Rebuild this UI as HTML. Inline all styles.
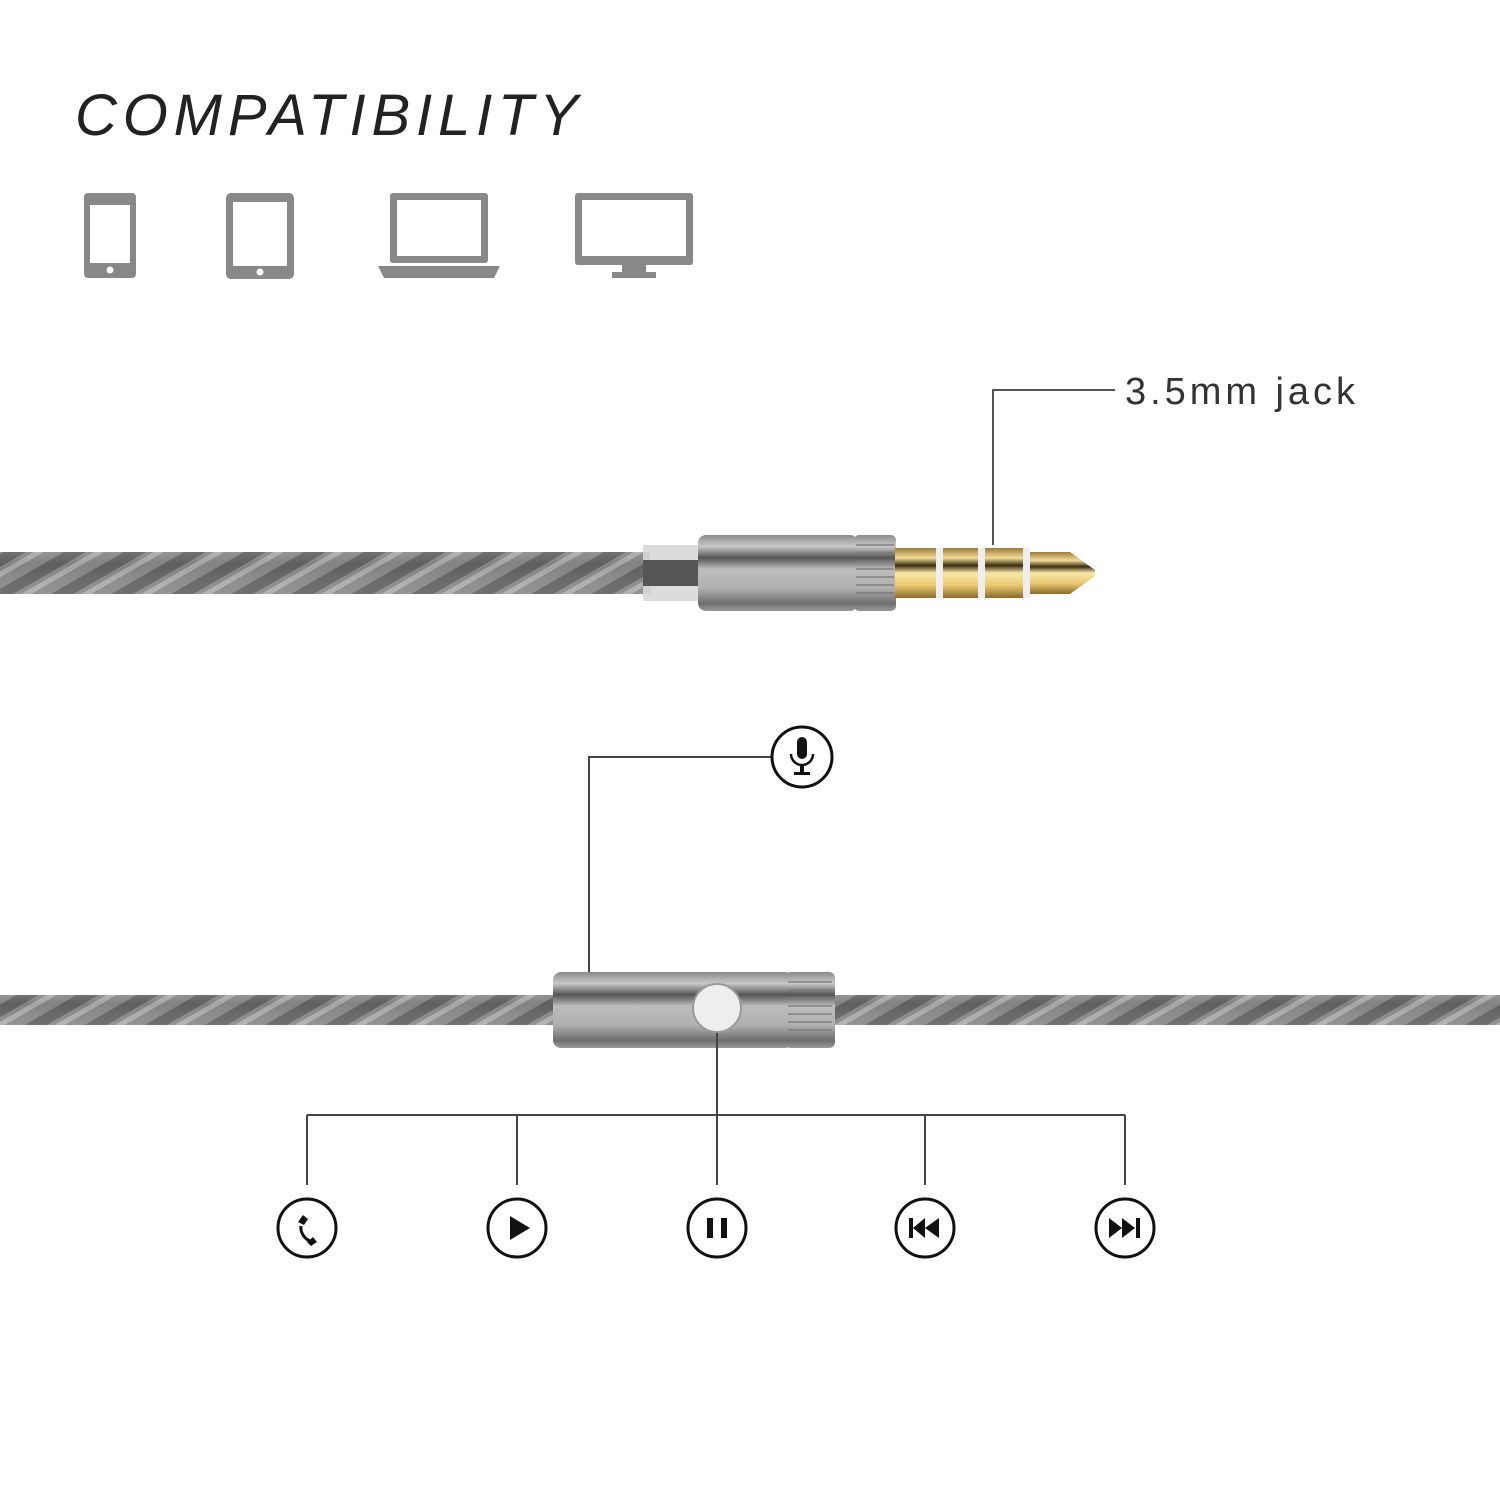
<!DOCTYPE html>
<html><head><style>
body{margin:0;background:#fff;width:1500px;height:1500px;overflow:hidden}
</style></head><body>
<svg width="1500" height="1500" viewBox="0 0 1500 1500" xmlns="http://www.w3.org/2000/svg">
<defs>
<linearGradient id="metal" x1="0" y1="0" x2="0" y2="1">
<stop offset="0" stop-color="#8a8a8a"/><stop offset=".15" stop-color="#c8c8c8"/><stop offset=".3" stop-color="#555"/><stop offset=".45" stop-color="#bdbdbd"/><stop offset=".7" stop-color="#b0b0b0"/><stop offset=".9" stop-color="#6e6e6e"/><stop offset="1" stop-color="#999"/>
</linearGradient>
<linearGradient id="gold" x1="0" y1="0" x2="0" y2="1">
<stop offset="0" stop-color="#9c7a3a"/><stop offset=".2" stop-color="#f3dc98"/><stop offset=".35" stop-color="#3a2c10"/><stop offset=".5" stop-color="#f8e9a8"/><stop offset=".75" stop-color="#e8c870"/><stop offset="1" stop-color="#8a6a2a"/>
</linearGradient>
<linearGradient id="cable" x1="0" y1="0" x2="0" y2="1">
<stop offset="0" stop-color="#aaa"/><stop offset=".3" stop-color="#666"/><stop offset=".6" stop-color="#888"/><stop offset="1" stop-color="#aaa"/>
</linearGradient>
<pattern id="twist" width="60" height="60" patternUnits="userSpaceOnUse" patternTransform="skewX(-60)">
<rect width="60" height="60" fill="#8c8c8c"/><rect width="22" height="60" fill="#5e5e5e"/><rect x="30" width="10" height="60" fill="#b8b8b8"/>
</pattern>
</defs>
<text x="75" y="135" font-family="Liberation Sans, sans-serif" font-style="italic" font-size="58" fill="#222" letter-spacing="2" textLength="505">COMPATIBILITY</text>
<g fill="#888">
<rect x="84" y="193" width="52" height="85" rx="4"/><rect x="90" y="205" width="40" height="58" fill="#fff"/><circle cx="110" cy="270" r="3.5" fill="#fff"/>
<rect x="226" y="193" width="68" height="86" rx="5"/><rect x="233" y="202" width="54" height="64" fill="#fff"/><circle cx="260" cy="272" r="3.5" fill="#fff"/>
<rect x="390" y="193" width="98" height="70" rx="3"/><rect x="397" y="200" width="84" height="56" fill="#fff"/><path d="M378 266h122l-6 12H384z"/>
<rect x="575" y="193" width="118" height="72" rx="3"/><rect x="582" y="200" width="104" height="56" fill="#fff"/><rect x="622" y="265" width="24" height="8"/><rect x="612" y="272" width="44" height="6"/>
</g>
<rect x="0" y="552" width="650" height="42" fill="url(#twist)"/>
<rect x="0" y="552" width="650" height="42" fill="url(#cable)" opacity=".25"/>
<rect x="643" y="545" width="58" height="56" fill="#d8d8d8" opacity=".9"/>
<rect x="643" y="560" width="58" height="26" fill="#555"/>
<rect x="698" y="535" width="160" height="76" rx="8" fill="url(#metal)"/>
<rect x="854" y="535" width="42" height="76" rx="5" fill="url(#metal)"/>
<g stroke="#777" stroke-width="1.2"><path d="M856 545h38M856 553h38M856 561h38M856 569h38M856 577h38M856 585h38M856 593h38M856 601h38"/></g>
<rect x="895" y="548" width="135" height="50" fill="url(#gold)"/>
<path d="M1030 552h40l25 18v6l-25 18h-40z" fill="url(#gold)"/>
<rect x="936" y="548" width="7" height="50" fill="#eee"/>
<rect x="978" y="548" width="7" height="50" fill="#eee"/>
<rect x="1023" y="548" width="7" height="50" fill="#eee"/>
<path d="M993 545V390h122" fill="none" stroke="#555" stroke-width="2"/>
<text x="1125" y="404" font-family="Liberation Sans, sans-serif" font-size="38" fill="#333" textLength="230">3.5mm jack</text>
<rect x="0" y="995" width="1500" height="30" fill="url(#twist)"/>
<rect x="0" y="995" width="1500" height="30" fill="url(#cable)" opacity=".25"/>
<rect x="553" y="972" width="240" height="76" rx="8" fill="url(#metal)"/>
<rect x="785" y="972" width="50" height="76" rx="6" fill="url(#metal)"/>
<g stroke="#777" stroke-width="1.2"><path d="M788 982h44M788 990h44M788 998h44M788 1006h44M788 1014h44M788 1022h44M788 1030h44M788 1038h44"/></g>
<circle cx="717" cy="1008" r="24" fill="#eee" stroke="#999" stroke-width="2"/>
<g fill="none" stroke="#444" stroke-width="2">
<path d="M589 972V757h183"/>
<path d="M717 1033V1185M307 1115H1125M307 1115v70M517 1115v70M925 1115v70M1125 1115v70"/>
</g>
<g fill="#fff" stroke="#111" stroke-width="3">
<circle cx="802" cy="757" r="30"/>
<circle cx="307" cy="1228" r="29"/><circle cx="517" cy="1228" r="29"/><circle cx="717" cy="1228" r="29"/><circle cx="925" cy="1228" r="29"/><circle cx="1125" cy="1228" r="29"/>
</g>
<g fill="#111">
<rect x="797" y="737" width="10" height="22" rx="5"/>
<path d="M791 754a11 11 0 0 0 22 0" fill="none" stroke="#111" stroke-width="2.5"/>
<rect x="800" y="765" width="4" height="8"/><rect x="794" y="772" width="16" height="3"/>
<path d="M301 1226c-1 7 4 13 9 15" fill="none" stroke="#111" stroke-width="3"/>
<path d="M298 1222l5-7 5 4-4 6zM307 1242l6-5 4 5-6 4z"/>
<path d="M510 1216v24l20-12z"/>
<rect x="707" y="1218" width="6" height="20"/><rect x="721" y="1218" width="6" height="20"/>
<rect x="909" y="1218" width="4" height="20"/><path d="M925 1218v20l-12-10zM939 1218v20l-14-10z"/>
<path d="M1109 1218v20l13-10zM1122 1218v20l13-10z"/><rect x="1136" y="1218" width="4" height="20"/>
</g>
</svg>
</body></html>
